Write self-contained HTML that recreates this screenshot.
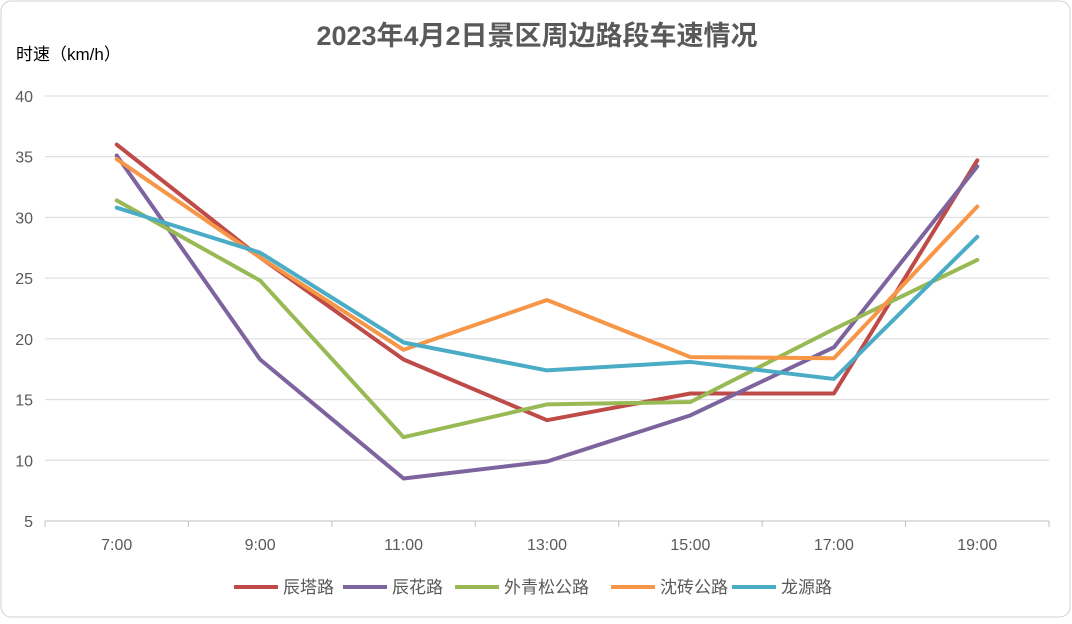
<!DOCTYPE html>
<html><head><meta charset="utf-8"><style>
body{margin:0;background:#fff}
svg text{font-family:"Liberation Sans","Noto Sans CJK SC",sans-serif}
</style></head><body>
<svg id="c" width="1072" height="619" xmlns="http://www.w3.org/2000/svg">
<rect x="1" y="1" width="1069" height="616" rx="10" fill="#fff" stroke="#d0d0d0"/>
<text x="537" y="45" text-anchor="middle" font-size="27" font-weight="bold" fill="#595959">2023年4月2日景区周边路段车速情况</text>
<text x="16" y="60" font-size="17" fill="#000">时速（km/h）</text>
<g id="grid"></g><g id="lines"></g><g id="legend"></g>
</svg>
<script>
const categories=["7:00","9:00","11:00","13:00","15:00","17:00","19:00"];
const yTicks=[5,10,15,20,25,30,35,40];
const seriesNames=["辰塔路","辰花路","外青松公路","沈砖公路","龙源路"];
const s1=[36.0,26.7,18.3,13.3,15.5,15.5,34.7];
const s2=[35.1,18.3,8.5,9.9,13.7,19.3,34.2];
const s3=[31.4,24.8,11.9,14.6,14.8,20.8,26.5];
const s4=[34.8,26.7,19.1,23.2,18.5,18.4,30.9];
const s5=[30.8,27.1,19.7,17.4,18.1,16.7,28.4];
const colors=["#BE4B48","#7E649E","#98B954","#F79646","#4BACC6"];
const NS="http://www.w3.org/2000/svg";
const L=45,R=1049,T=96,B=521,ymin=5,ymax=40;
const bw=(R-L)/categories.length;
const x=i=>L+bw*(i+0.5);
const y=v=>B-(v-ymin)/(ymax-ymin)*(B-T);
function mk(t,a,p){const e=document.createElementNS(NS,t);for(const k in a)e.setAttribute(k,a[k]);p.appendChild(e);return e;}
const g=document.getElementById('grid');
yTicks.forEach(v=>{
 const l=mk('line',{x1:L,x2:R,y1:y(v),y2:y(v),stroke:v===ymin?'#bfbfbf':'#d9d9d9','stroke-width':1},g);
 
 
 const t=mk('text',{x:33,y:y(v)+6,'text-anchor':'end','font-size':16,fill:'#595959'},g);t.textContent=v;
 
 
});
for(let i=0;i<=categories.length;i++){const l=mk('line',{x1:L+bw*i,x2:L+bw*i,y1:B,y2:B+6,stroke:'#bfbfbf'},g);
 
 }
categories.forEach((c,i)=>{const t=mk('text',{x:x(i),y:550,'text-anchor':'middle','font-size':16,fill:'#595959'},g);t.textContent=c;
 
 });
const ln=document.getElementById('lines');
[s1,s2,s3,s4,s5].forEach((s,k)=>{
 const p=mk('polyline',{points:s.map((v,i)=>x(i)+','+y(v)).join(' '),fill:'none',stroke:colors[k],'stroke-width':4,'stroke-linejoin':'round','stroke-linecap':'round'},ln);
 
 
});
const lg=document.getElementById('legend');
const lx=[234,343,455,611,732];
seriesNames.forEach((n,k)=>{
 const gi=mk('g',{},lg);
 
 
 mk('line',{x1:lx[k],x2:lx[k]+44,y1:587,y2:587,stroke:colors[k],'stroke-width':4},gi);
 const t=mk('text',{x:lx[k]+49,y:593,'font-size':17,fill:'#595959'},gi);t.textContent=n;
});
</script>
</body></html>
